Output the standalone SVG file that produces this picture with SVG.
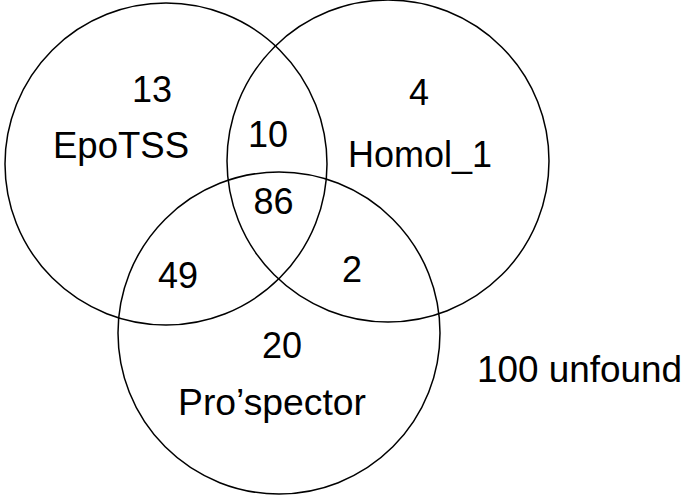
<svg xmlns="http://www.w3.org/2000/svg" width="685" height="500" viewBox="0 0 685 500">
<style>
.c{fill:none;stroke:#000;stroke-width:1.5}
text{font-family:"Liberation Sans",Arial,sans-serif;font-size:36px;fill:#000;text-anchor:middle}
</style>
<rect width="685" height="500" fill="#fff"/>
<g id="epotss"><circle class="c" cx="166" cy="164" r="161"/></g>
<g id="homol"><circle class="c" cx="388" cy="161" r="161"/></g>
<g id="prospector"><circle class="c" cx="279" cy="333" r="161"/></g>
<g id="connectors"></g>
<g id="labels">
<text x="152" y="102">13</text>
<text x="121" y="158" textLength="136" lengthAdjust="spacingAndGlyphs">EpoTSS</text>
<text x="268" y="147">10</text>
<text x="273.5" y="214">86</text>
<text x="419" y="105">4</text>
<text x="420" y="167" textLength="144" lengthAdjust="spacingAndGlyphs">Homol_1</text>
<text x="178" y="288">49</text>
<text x="352" y="282">2</text>
<text x="282" y="358">20</text>
<text x="272" y="415" textLength="188" lengthAdjust="spacingAndGlyphs">Pro’spector</text>
<text x="579.5" y="382" textLength="205" lengthAdjust="spacingAndGlyphs">100 unfound</text>
</g>
</svg>
